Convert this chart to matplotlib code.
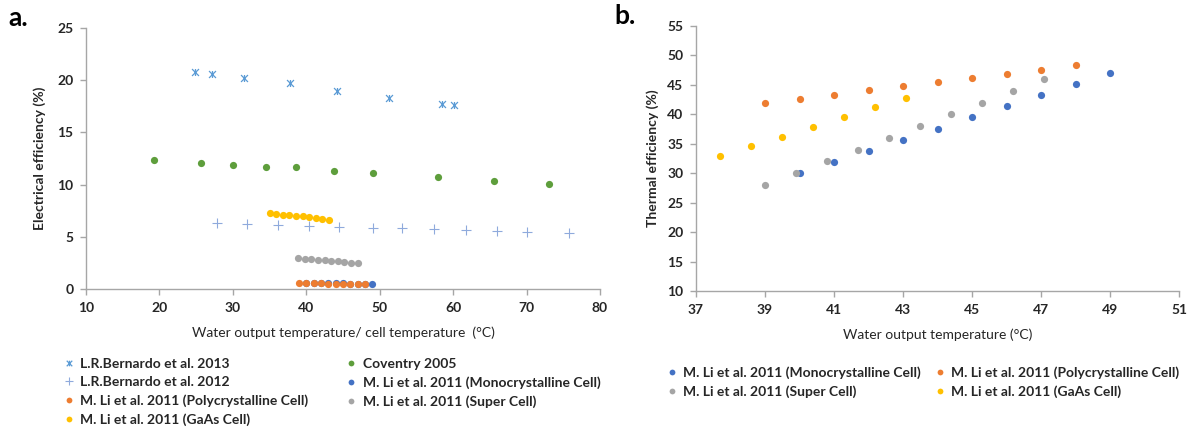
import matplotlib
matplotlib.use('Agg')
import matplotlib.pyplot as plt
from matplotlib.path import Path

plt.rcParams['font.family'] = ['Lato', 'DejaVu Sans']

# --- panel a: electrical efficiency ---
bern13_t = [24.9, 27.2, 31.5, 37.8, 44.2, 51.3, 58.5, 60.1]
bern13_eff = [20.8, 20.6, 20.2, 19.7, 19.0, 18.3, 17.7, 17.6]

coventry_t = [19.3, 25.6, 30.0, 34.5, 38.6, 43.8, 49.1, 58.0, 65.6, 73.0]
coventry_eff = [12.4, 12.1, 11.9, 11.7, 11.7, 11.3, 11.1, 10.7, 10.3, 10.1]

bern12_t = [27.8, 31.9, 36.1, 40.4, 44.4, 49.1, 53.1, 57.4, 61.8, 66.0, 70.0, 75.8]
bern12_eff = [6.3, 6.2, 6.1, 6.0, 5.9, 5.85, 5.8, 5.7, 5.65, 5.6, 5.5, 5.4]

mono_t_a = [40, 41, 42, 43, 44, 45, 46, 47, 48, 49]
mono_eff = [0.58, 0.57, 0.56, 0.55, 0.54, 0.53, 0.52, 0.51, 0.5, 0.49]

poly_t_a = [39, 40, 41, 42, 43, 44, 45, 46, 47, 48]
poly_eff = [0.56, 0.55, 0.54, 0.53, 0.52, 0.5, 0.49, 0.48, 0.47, 0.45]

super_t_a = [38.9, 39.8, 40.7, 41.6, 42.5, 43.4, 44.3, 45.2, 46.1, 47.0]
super_eff = [2.97, 2.92, 2.86, 2.8, 2.75, 2.7, 2.64, 2.58, 2.52, 2.46]

gaas_t_a = [35.0, 35.9, 36.8, 37.7, 38.6, 39.5, 40.4, 41.3, 42.2, 43.1]
gaas_eff = [7.25, 7.2, 7.13, 7.07, 7.0, 6.95, 6.88, 6.8, 6.73, 6.65]

# --- panel b: thermal efficiency ---
mono_t_b = [40, 41, 42, 43, 44, 45, 46, 47, 48, 49]
mono_th = [30.0, 31.85, 33.8, 35.7, 37.55, 39.5, 41.35, 43.3, 45.15, 47.1]

poly_t_b = [39, 40, 41, 42, 43, 44, 45, 46, 47, 48]
poly_th = [42.0, 42.65, 43.3, 44.1, 44.75, 45.5, 46.2, 46.85, 47.6, 48.3]

super_t_b = [39.0, 39.9, 40.8, 41.7, 42.6, 43.5, 44.4, 45.3, 46.2, 47.1]
super_th = [28, 30, 32, 34, 36, 38, 40, 42, 44, 46]

gaas_t_b = [37.7, 38.6, 39.5, 40.4, 41.3, 42.2, 43.1]
gaas_th = [32.9, 34.6, 36.2, 37.9, 39.5, 41.2, 42.8]

C_BLUE = '#4472C4'
C_ORANGE = '#ED7D31'
C_GRAY = '#A5A5A5'
C_YELLOW = '#FFC000'
C_GREEN = '#5E9E3C'
C_STAR = '#5B9BD5'
C_PLUS = '#8FAADC'
TXT = '#262626'
AXC = '#A6A6A6'

# excel style "star" marker: an x with a vertical bar through it
star = Path([(-1, -1), (1, 1), (-1, 1), (1, -1), (0, -1), (0, 1)],
            [Path.MOVETO, Path.LINETO, Path.MOVETO, Path.LINETO,
             Path.MOVETO, Path.LINETO])

dot = dict(ls='none', marker='o', ms=5.2, mew=0)


def style_axes(ax):
    for s in ['top', 'right']:
        ax.spines[s].set_visible(False)
    for s in ['left', 'bottom']:
        ax.spines[s].set_color(AXC)
        ax.spines[s].set_linewidth(1.0)
    ax.tick_params(axis='both', direction='out', length=4, width=1.0,
                   color=AXC, labelcolor=TXT, labelsize=10, pad=5)
    for lab in ax.get_xticklabels() + ax.get_yticklabels():
        lab.set_fontweight('bold')


fig = plt.figure(figsize=(11.95, 4.29), dpi=100)
ax1 = fig.add_axes([86 / 1195, 1 - 289 / 429, 514 / 1195, 261 / 429])
ax2 = fig.add_axes([696 / 1195, 1 - 291 / 429, 483 / 1195, 265 / 429])

# panel a
h_b13, = ax1.plot(bern13_t, bern13_eff, ls='none', marker=star, ms=5,
                  mew=0.9, color=C_STAR, label='L.R.Bernardo et al. 2013')
h_cov, = ax1.plot(coventry_t, coventry_eff, color=C_GREEN, label='Coventry 2005', **dot)
h_b12, = ax1.plot(bern12_t, bern12_eff, ls='none', marker='+', ms=7,
                  mew=0.8, color=C_PLUS, label='L.R.Bernardo et al. 2012')
h_mono, = ax1.plot(mono_t_a, mono_eff, color=C_BLUE,
                   label='M. Li et al. 2011 (Monocrystalline Cell)', **dot)
h_poly, = ax1.plot(poly_t_a, poly_eff, color=C_ORANGE,
                   label='M. Li et al. 2011 (Polycrystalline Cell)', **dot)
h_sup, = ax1.plot(super_t_a, super_eff, color=C_GRAY,
                  label='M. Li et al. 2011 (Super Cell)', **dot)
h_gaas, = ax1.plot(gaas_t_a, gaas_eff, color=C_YELLOW,
                   label='M. Li et al. 2011 (GaAs Cell)', **dot)

ax1.set_xlim(10, 80)
ax1.set_ylim(0, 25)
ax1.set_xticks(range(10, 81, 10))
ax1.set_yticks(range(0, 26, 5))
style_axes(ax1)
ax1.set_xlabel('Water output temperature/ cell temperature  (°C)',
               fontsize=10, color=TXT, labelpad=9)
ax1.set_ylabel('Electrical efficiency (%)', fontsize=10, fontweight='bold',
               color=TXT, labelpad=8)

# panel b
g_mono, = ax2.plot(mono_t_b, mono_th, color=C_BLUE,
                   label='M. Li et al. 2011 (Monocrystalline Cell)', **dot)
g_poly, = ax2.plot(poly_t_b, poly_th, color=C_ORANGE,
                   label='M. Li et al. 2011 (Polycrystalline Cell)', **dot)
g_sup, = ax2.plot(super_t_b, super_th, color=C_GRAY,
                  label='M. Li et al. 2011 (Super Cell)', **dot)
g_gaas, = ax2.plot(gaas_t_b, gaas_th, color=C_YELLOW,
                   label='M. Li et al. 2011 (GaAs Cell)', **dot)

ax2.set_xlim(37, 51)
ax2.set_ylim(10, 55)
ax2.set_xticks(range(37, 52, 2))
ax2.set_yticks(range(10, 56, 5))
style_axes(ax2)
ax2.set_xlabel('Water output temperature (°C)', fontsize=10, color=TXT, labelpad=9)
ax2.set_ylabel('Thermal efficiency (%)', fontsize=10, fontweight='bold',
               color=TXT, labelpad=6)

leg_kw = dict(frameon=False, prop={'size': 10, 'weight': 'bold'},
              handlelength=0.8, handletextpad=0.4, borderpad=0,
              labelspacing=0.45, markerscale=0.8, labelcolor=TXT)

fig.legend([h_b13, h_b12, h_poly, h_gaas, h_cov, h_mono, h_sup],
           [h.get_label() for h in [h_b13, h_b12, h_poly, h_gaas, h_cov, h_mono, h_sup]],
           ncol=2, loc='upper left', bbox_to_anchor=(56 / 1195, 1 - 351 / 429),
           columnspacing=2.75, **leg_kw)

fig.legend([g_mono, g_sup, g_poly, g_gaas],
           [h.get_label() for h in [g_mono, g_sup, g_poly, g_gaas]],
           ncol=2, loc='upper left', bbox_to_anchor=(659 / 1195, 1 - 359 / 429),
           columnspacing=1.0, **leg_kw)

fig.text(8 / 1195, 1 - 18 / 429, 'a.', fontsize=19, fontweight='bold',
         color='black', va='center')
fig.text(614 / 1195, 1 - 16 / 429, 'b.', fontsize=19, fontweight='bold',
         color='black', va='center')

fig.savefig('out.png', dpi=100)
